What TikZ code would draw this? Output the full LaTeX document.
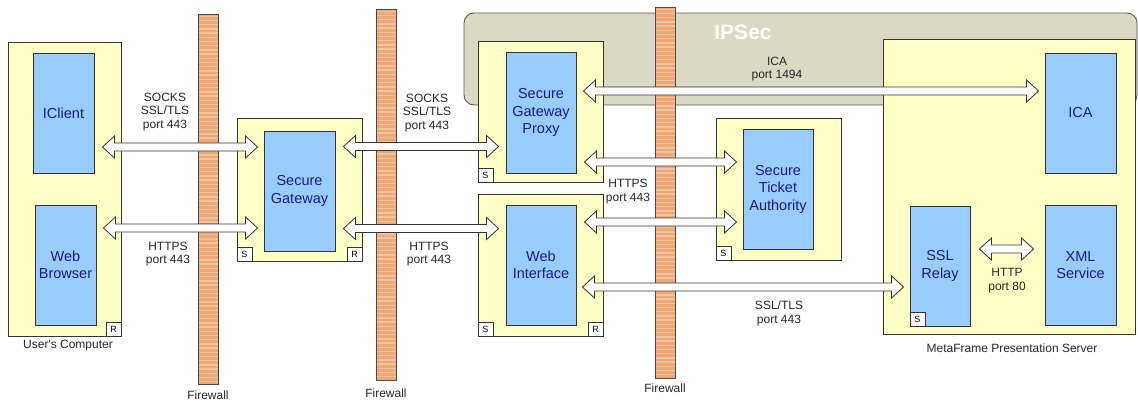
\documentclass[tikz,border=0pt]{standalone}
\usepackage{fontspec}
\setmainfont{Liberation Sans}
\usetikzlibrary{calc}
\definecolor{yel}{HTML}{FFFFC6}
\definecolor{blu}{HTML}{99CCFF}
\definecolor{nav}{HTML}{1A1A8C}
\definecolor{bandc}{HTML}{DBD9C4}
\definecolor{fwc}{HTML}{EEA877}
\definecolor{fwl}{HTML}{EFC49C}
\definecolor{fwedge}{HTML}{4A4A4A}
\definecolor{edge}{HTML}{333333}
\newcommand\dblarr[5]{%
 \draw[barrow] let \p1=(#1.east), \p2=(#2.west) in
  (\x1+#4pt, -#3pt) -- (\x1+#4pt+12pt, -#3pt+11pt) -- (\x1+#4pt+12pt, -#3pt+4pt)
  -- (\x2-#5pt-12pt, -#3pt+4pt) -- (\x2-#5pt-12pt, -#3pt+11pt) -- (\x2-#5pt, -#3pt)
  -- (\x2-#5pt-12pt, -#3pt-11pt) -- (\x2-#5pt-12pt, -#3pt-4pt)
  -- (\x1+#4pt+12pt, -#3pt-4pt) -- (\x1+#4pt+12pt, -#3pt-11pt) -- cycle;}
\tikzset{
 outerbox/.style={draw=edge, fill=yel, line width=0.9pt, inner sep=0pt},
 innerbox/.style={draw=edge, fill=blu, line width=0.9pt, inner sep=0pt, text=nav, align=center,
   font=\fontsize{14.5}{17.5}\selectfont},
 tag/.style={draw=edge, fill=white, line width=0.7pt, minimum width=15pt, minimum height=14pt,
   inner sep=0pt, font=\fontsize{9}{10}\selectfont},
 lbl/.style={inner sep=0pt, align=center, text=black!85, font=\fontsize{12}{13.5}\selectfont},
 firewall/.style={draw=fwedge, fill=fwc, minimum width=20pt, inner sep=0pt, line width=0.8pt,
   path picture={\foreach \k in {0,...,90}{\fill[fwl] ($(path picture bounding box.north west)+(0,1.5+4.2*\k)$) rectangle ++(20,1.4);}}},
 barrow/.style={draw=edge, fill=white, line width=0.8pt, line join=miter},
}
\begin{document}
\begin{tikzpicture}[x=1pt,y=-1pt]
\useasboundingbox (0,0) rectangle (1138,400);
% IPSec band
\node[draw=black!65, fill=bandc, rounded corners=10pt, line width=0.9pt, minimum width=673pt, minimum height=92pt, inner sep=0pt] (ipsec) at (800.5,59) {};
\node[inner sep=0pt, text=white, font=\fontsize{21}{24}\selectfont\bfseries] (ipsectxt) at (743,32) {IPSec};
% firewalls
\node[firewall, minimum height=370pt] (fw1) at (208,199) {};
\node[firewall, minimum height=371pt] (fw2) at (386,194.5) {};
\node[firewall, minimum height=371pt] (fw3) at (665,192.5) {};
\node[lbl] (fw1l) at (208,395) {Firewall};
\node[lbl] (fw2l) at (386,393) {Firewall};
\node[lbl] (fw3l) at (665,388) {Firewall};
% outer boxes
\node[outerbox, minimum width=113pt, minimum height=294pt] (user) at (64.5,189) {};
\node[outerbox, minimum width=125pt, minimum height=143pt] (sg) at (299.5,189.5) {};
\node[outerbox, minimum width=125pt, minimum height=141pt] (sgp) at (540.5,111.5) {};
\node[outerbox, minimum width=125pt, minimum height=142pt] (wi) at (540.5,265) {};
\node[outerbox, minimum width=125pt, minimum height=142pt] (sta) at (778.5,189) {};
\node[outerbox, minimum width=252pt, minimum height=295pt] (mf) at (1009,186.5) {};
% inner boxes
\node[innerbox, minimum width=61pt, minimum height=120pt] (iclient) at (63.5,113) {IClient};
\node[innerbox, minimum width=61pt, minimum height=120pt] (browser) at (65.5,265) {Web\\Browser};
\node[innerbox, minimum width=71pt, minimum height=120pt] (sgin) at (299.5,191) {Secure\\Gateway};
\node[innerbox, minimum width=70pt, minimum height=121pt] (sgpin) at (541,112.5) {Secure\\Gateway\\Proxy};
\node[innerbox, minimum width=70pt, minimum height=120pt] (wiin) at (541,265) {Web\\Interface};
\node[innerbox, minimum width=70pt, minimum height=120pt] (stain) at (778,189) {Secure\\Ticket\\Authority};
\node[innerbox, minimum width=71pt, minimum height=120pt] (ica) at (1080.5,113) {ICA};
\node[innerbox, minimum width=71pt, minimum height=120pt] (xml) at (1080.5,265) {XML\\Service};
\node[innerbox, minimum width=60pt, minimum height=120pt] (ssl) at (940,266) {SSL\\Relay};
% tags
\node[tag, anchor=south east] (userR) at (user.south east) {R};
\node[tag, anchor=south west] (sgS) at (sg.south west) {S};
\node[tag, anchor=south east] (sgR) at (sg.south east) {R};
\node[tag, anchor=south west] (sgpS) at (sgp.south west) {S};
\node[tag, anchor=south west] (wiS) at (wi.south west) {S};
\node[tag, anchor=south east] (wiR) at (wi.south east) {R};
\node[tag, anchor=south west] (staS) at (sta.south west) {S};
\node[tag, anchor=south west] (sslS) at (ssl.south west) {S};
% arrows
\dblarr{iclient}{sgin}{147}{8}{6}
\dblarr{browser}{sgin}{228}{7}{6}
\dblarr{sgin}{sgpin}{146.5}{8}{7}
\dblarr{sgin}{wiin}{228.5}{8}{7}
\dblarr{sgpin}{ica}{91}{7}{6}
\dblarr{sgpin}{stain}{162}{8}{6}
\dblarr{wiin}{stain}{222}{8}{6}
\dblarr{wiin}{ssl}{287}{6}{6}
\dblarr{ssl}{xml}{249}{9}{11}
% labels
\node[lbl] (l1) at (165,112) {SOCKS\\SSL/TLS\\port 443};
\node[lbl] (l2) at (168,254) {HTTPS\\port 443};
\node[lbl] (l3) at (427,113) {SOCKS\\SSL/TLS\\port 443};
\node[lbl] (l4) at (429,254) {HTTPS\\port 443};
\node[lbl] (l5) at (777,69) {ICA\\port 1494};
\node[lbl] (l6) at (628,191.5) {HTTPS\\port 443};
\node[lbl] (l7) at (779,313.5) {SSL/TLS\\port 443};
\node[lbl] (l8) at (1007,280.5) {HTTP\\port 80};
\node[lbl] (l9) at (68,346) {User\textquotesingle s Computer};
\node[lbl] (l10) at (1012,348) {MetaFrame Presentation Server};
\end{tikzpicture}
\end{document}
